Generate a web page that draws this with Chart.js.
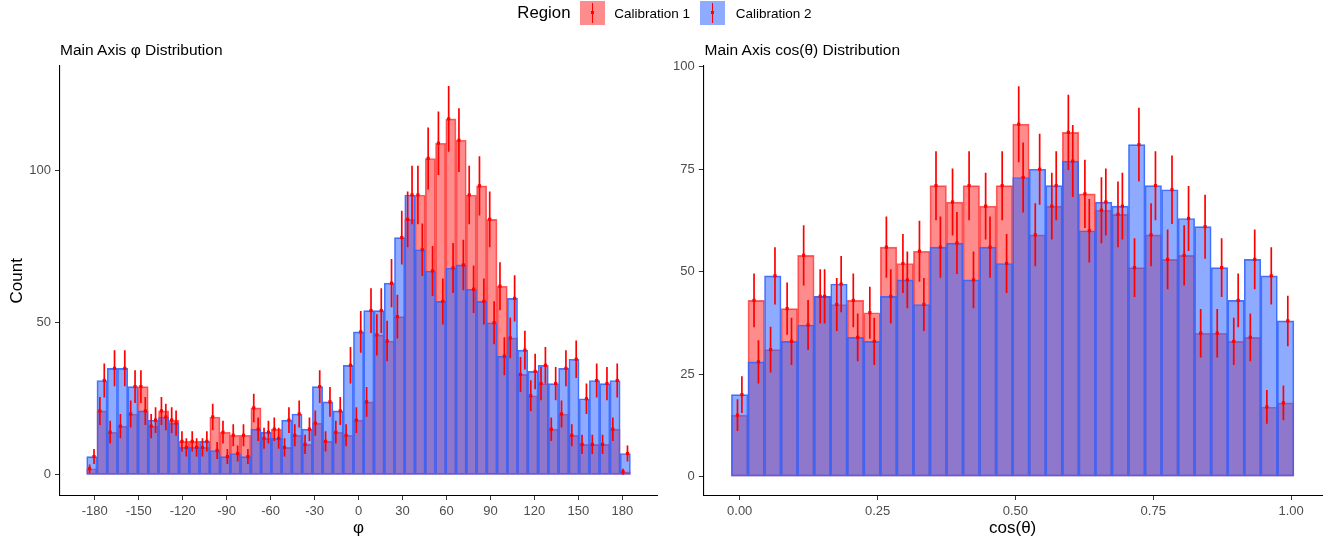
<!DOCTYPE html>
<html>
<head>
<meta charset="utf-8">
<script src="https://cdn.jsdelivr.net/npm/chart.js@4.4.1/dist/chart.umd.min.js"></script>
<style>
  html, body { margin: 0; padding: 0; background: #ffffff; }
  body { width: 1338px; height: 542px; position: relative; overflow: hidden;
         font-family: "Liberation Sans", Arial, sans-serif; }
  canvas.layer { position: absolute; left: 0; top: 0; }
  .txt { position: absolute; white-space: nowrap; color: #000; line-height: 1; }
  .panel-title { font-size: 15.5px; top: 42.2px; }
  .key { position: absolute; top: 1px; width: 24.7px; height: 24px; }
  .key .bar { position: absolute; left: 11.5px; top: 2.3px; width: 1.7px; height: 20px; background: #ff0000; }
  .key .dot { position: absolute; left: 10.8px; top: 9.8px; width: 3px; height: 3px; background: #ff0000; }
</style>
</head>
<body>
<canvas id="phiChart" class="layer" width="1338" height="542"></canvas>
<canvas id="cosChart" class="layer" width="1338" height="542"></canvas>

<div class="txt" style="left:517.3px; top:5.1px; font-size:16.8px;">Region</div>
<div class="key" style="left:580px; background:rgba(255,0,0,0.45);"><div class="bar"></div><div class="dot"></div></div>
<div class="txt" style="left:614.3px; top:6.9px; font-size:13.5px;">Calibration 1</div>
<div class="key" style="left:700.3px; background:rgba(51,102,255,0.55);"><div class="bar"></div><div class="dot"></div></div>
<div class="txt" style="left:735.7px; top:6.9px; font-size:13.5px;">Calibration 2</div>

<div class="txt panel-title" style="left:60px;">Main Axis φ Distribution</div>
<div class="txt panel-title" style="left:704.5px;">Main Axis cos(θ) Distribution</div>

<script>
// φ histogram: bin centres (degrees) and counts per calibration region
const phiCenters = [-182, -175, -168, -161, -154, -147, -140, -133, -126, -119, -112, -105, -98, -91, -84, -77, -70, -63,
  -56, -49, -42, -35, -28, -21, -14, -7, 0, 7, 14, 21, 28, 35, 42, 49, 56, 63, 70, 77, 84, 91, 98, 105, 112, 119,
  126, 133, 140, 147, 154, 161, 168, 175, 182];
const phiCal1 = [2, 21, 14, 16, 20, 29, 16, 21, 18, 11, 11, 9, 19, 14, 13, 13, 22, 12, 15, 9, 13, 10, 17, 11, 14, 13,
  18, 24, 46, 44, 52, 84, 92, 104, 109, 117, 110, 92, 95, 84, 62, 45, 33, 26, 30, 15, 20, 13, 10, 10, 10, 15, 1];
const phiCal2 = [6, 31, 35, 35, 29, 21, 18, 19, 17, 9, 9, 11, 8, 6, 7, 6, 15, 14, 12, 18, 20, 15, 29, 24, 21, 36,
  47, 54, 54, 63, 78, 92, 74, 67, 57, 68, 69, 61, 57, 50, 39, 58, 41, 34, 36, 30, 35, 38, 25, 31, 30, 31, 7];
const phiTicks = [-180, -150, -120, -90, -60, -30, 0, 30, 60, 90, 120, 150, 180];
const phiCountTicks = [0, 50, 100];

// cos(θ) histogram: bin centres and counts per calibration region
const cosCenters = [0, 0.03, 0.06, 0.09, 0.12, 0.15, 0.18, 0.21, 0.24, 0.27, 0.30, 0.33, 0.36, 0.39, 0.42, 0.45, 0.48,
  0.51, 0.54, 0.57, 0.60, 0.63, 0.66, 0.69, 0.72, 0.75, 0.78, 0.81, 0.84, 0.87, 0.90, 0.93, 0.96, 0.99];
const cosCal1 = [15, 43, 31, 41, 54, 44, 42, 43, 40, 56, 52, 55, 71, 67, 71, 66, 71, 86, 59, 66, 84, 69, 65, 64, 51,
  59, 53, 54, 35, 35, 33, 34, 17, 18];
const cosCal2 = [20, 28, 49, 33, 37, 44, 47, 34, 33, 44, 48, 42, 56, 57, 48, 56, 52, 73, 75, 71, 77, 60, 67, 66, 81,
  71, 70, 63, 61, 51, 43, 53, 49, 38];
const cosTicks = [0, 0.25, 0.5, 0.75, 1];
const cosCountTicks = [0, 25, 50, 75, 100];

const FONT = '"Liberation Sans", Arial, sans-serif';
const RED_FILL = 'rgba(255,0,0,0.45)', RED_LINE = 'rgba(255,0,0,0.6)';
const BLUE_FILL = 'rgba(51,102,255,0.55)', BLUE_LINE = 'rgba(51,102,255,0.9)';
const ERR_COLOR = '#ff0000';

// Poisson (±√n) error bars for both regions, dodged a little either side of the bin centre
function errorBarPlugin(centers, series) {
  return {
    id: 'errorBars',
    afterDatasetsDraw(chart) {
      const { ctx, chartArea, scales: { x, y } } = chart;
      ctx.save();
      ctx.beginPath();
      ctx.rect(chartArea.left, chartArea.top, chartArea.right - chartArea.left, chartArea.bottom - chartArea.top);
      ctx.clip();
      ctx.strokeStyle = ERR_COLOR;
      ctx.fillStyle = ERR_COLOR;
      ctx.lineWidth = 1.7;
      series.forEach(s => {
        s.values.forEach((v, i) => {
          const px = x.getPixelForValue(centers[i]) + s.shift;
          const e = Math.sqrt(v);
          ctx.beginPath();
          ctx.moveTo(px, y.getPixelForValue(v + e));
          ctx.lineTo(px, y.getPixelForValue(v - e));
          ctx.stroke();
          const py = y.getPixelForValue(v);
          ctx.fillRect(px - 1.6, py - 1.6, 3.2, 3.2);
        });
      });
      ctx.restore();
    }
  };
}

function histPanel(canvasId, cfg) {
  const toPoints = vals => cfg.centers.map((c, i) => ({ x: c, y: vals[i] }));
  const barStyle = { borderWidth: 1, borderSkipped: false, grouped: false,
                     barPercentage: 1, categoryPercentage: 1 };
  return new Chart(document.getElementById(canvasId), {
    type: 'bar',
    data: {
      datasets: [
        Object.assign({ label: 'Calibration 1', data: toPoints(cfg.cal1), order: 2,
                        backgroundColor: RED_FILL, borderColor: RED_LINE }, barStyle),
        Object.assign({ label: 'Calibration 2', data: toPoints(cfg.cal2), order: 1,
                        backgroundColor: BLUE_FILL, borderColor: BLUE_LINE }, barStyle)
      ]
    },
    options: {
      responsive: false,
      devicePixelRatio: 1,
      animation: false,
      events: [],
      layout: { padding: cfg.padding },
      plugins: { legend: { display: false }, tooltip: { enabled: false }, title: { display: false } },
      scales: {
        x: {
          type: 'linear',
          offset: false,
          min: cfg.xMin, max: cfg.xMax,
          afterBuildTicks: s => { s.ticks = cfg.xTicks.map(v => ({ value: v })); },
          afterFit: s => { s.height = 46.5; },
          grid: { display: true, offset: false, drawOnChartArea: false, drawTicks: true, tickLength: 4.5,
                  color: '#333333', lineWidth: 1 },
          border: { display: true, color: '#000000', width: 1.1 },
          ticks: { color: '#4D4D4D', font: { family: FONT, size: 13 }, padding: 3.5, maxRotation: 0,
                   autoSkip: false, callback: cfg.xLabel },
          title: { display: true, text: cfg.xTitle, color: '#000000', font: { family: FONT, size: 17 },
                   padding: { top: 0, bottom: 3 } }
        },
        y: {
          type: 'linear',
          min: cfg.yMin, max: cfg.yMax,
          afterBuildTicks: s => { s.ticks = cfg.yTicks.map(v => ({ value: v })); },
          afterFit: s => { s.width = cfg.yWidth; },
          grid: { display: true, drawOnChartArea: false, drawTicks: true, tickLength: 4.5, color: '#333333', lineWidth: 1 },
          border: { display: true, color: '#000000', width: 1.1 },
          ticks: { color: '#4D4D4D', font: { family: FONT, size: 13 }, padding: 4,
                   callback: v => String(v) },
          title: { display: !!cfg.yTitle, text: cfg.yTitle || '', color: '#000000',
                   font: { family: FONT, size: 17 }, padding: { top: 7, bottom: 0 } }
        }
      }
    },
    plugins: [errorBarPlugin(cfg.centers, [
      { values: cfg.cal1, shift: -2.2 },
      { values: cfg.cal2, shift: 2.2 }
    ])]
  });
}

histPanel('phiChart', {
  centers: phiCenters, cal1: phiCal1, cal2: phiCal2,
  xMin: -204.05, xMax: 204.05, xTicks: phiTicks, xLabel: v => String(v), xTitle: 'φ',
  yMin: -6.8, yMax: 134.4, yTicks: phiCountTicks, yTitle: 'Count', yWidth: 59.5,
  padding: { left: 0, top: 66, right: 1338 - 657.6, bottom: 0 }
});

histPanel('cosChart', {
  centers: cosCenters, cal1: cosCal1, cal2: cosCal2,
  xMin: -0.066, xMax: 1.056, xTicks: cosTicks, xLabel: v => Number(v).toFixed(2), xTitle: 'cos(θ)',
  yMin: -4.6, yMax: 100.2, yTicks: cosCountTicks, yTitle: '', yWidth: 53.3,
  padding: { left: 650, top: 66, right: 16, bottom: 0 }
});
</script>
</body>
</html>
